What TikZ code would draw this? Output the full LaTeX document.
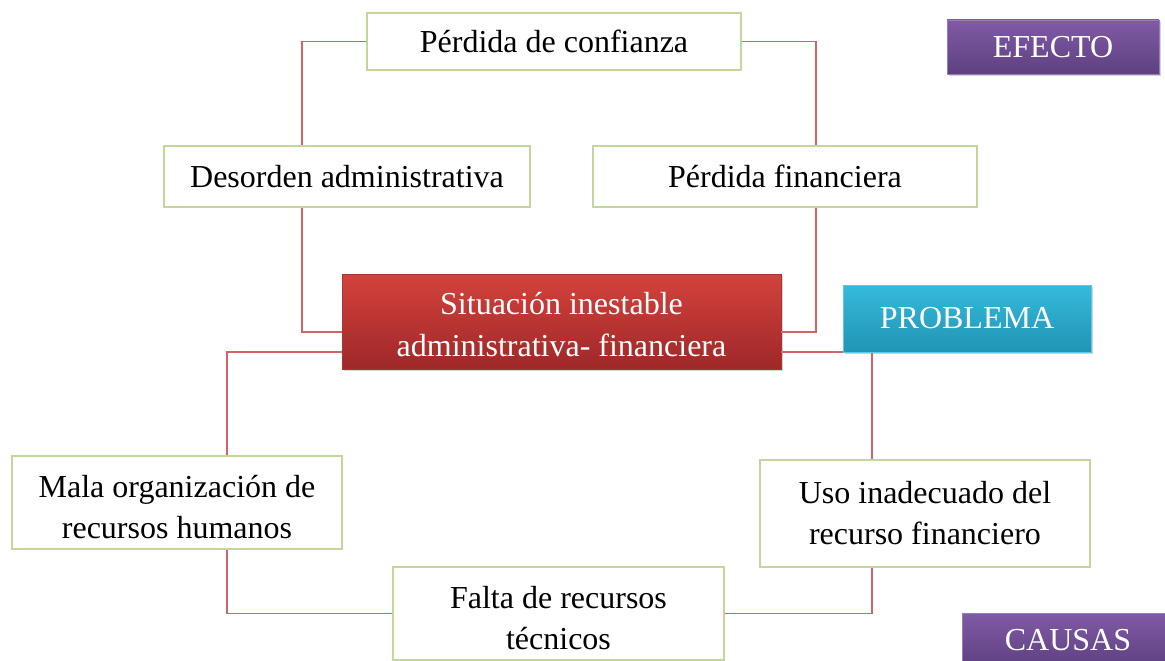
\documentclass[tikz,border=0pt]{standalone}
\usepackage{fontspec}
\setmainfont{Liberation Serif}
\usetikzlibrary{shadows}

\definecolor{boxgreen}{RGB}{195,214,155}
\definecolor{linkred}{RGB}{212,100,100}
\definecolor{probtop}{RGB}{212,66,60}
\definecolor{probbot}{RGB}{158,40,40}
\definecolor{tealtop}{RGB}{52,186,220}
\definecolor{tealbot}{RGB}{34,148,180}
\definecolor{violtop}{RGB}{128,90,166}
\definecolor{violbot}{RGB}{94,64,128}

\begin{document}
\begin{tikzpicture}[x=1pt, y=-1pt,
	every node/.style={font=\fontsize{32}{41}\selectfont, align=center, inner sep=0pt},
	cbox/.style={draw=boxgreen, line width=1.2pt, fill=white},
	lowtext/.style={text height=#1, text depth=5pt},
	pbox/.style={top color=probtop, bottom color=probbot, draw=probtop!80!black,
		text=white, font=\fontsize{32}{42}\selectfont, drop shadow={opacity=0.35}},
	tagbox/.style={text=white, drop shadow={opacity=0.35}},
	link/.style={draw=linkred, line width=1.5pt}]

% Frame
\useasboundingbox (0,0) rectangle (1165,661);
\clip (0,0) rectangle (1165,661);

% Columns of the connectors
\coordinate (colA) at (302,0);
\coordinate (colB) at (816,0);
\coordinate (colC) at (227,0);
\coordinate (colD) at (872,0);

% Effects
\node[cbox, minimum width=374pt, minimum height=57pt]
	(confianza) at (554,41.5) {Pérdida de confianza};
\node[cbox, minimum width=366pt, minimum height=61pt]
	(desorden) at (347,176.5) {Desorden administrativa};
\node[cbox, minimum width=384pt, minimum height=61pt]
	(financiera) at (785,176.5) {Pérdida financiera};

% Problem
\node[pbox, lowtext=74pt, minimum width=439pt, minimum height=95pt]
	(situacion) at (561.5,321.5) {Situación inestable\\administrativa- financiera};

% Causes
\node[cbox, lowtext=76pt, minimum width=330pt, minimum height=93pt]
	(mala) at (177,502.5) {Mala organización de\\recursos humanos};
\node[cbox, minimum width=330pt, minimum height=107pt]
	(uso) at (925,513.5) {Uso inadecuado del\\recurso financiero};
\node[cbox, lowtext=76pt, minimum width=331pt, minimum height=93pt]
	(falta) at (558.5,613.5) {Falta de recursos\\técnicos};

% Connect effects
\draw[link] (confianza.west) -| (colA |- desorden.north);
\draw[link] (confianza.east) -| (colB |- financiera.north);
\draw[link] (colA |- desorden.south) |- ([yshift=-10.5pt]situacion.west);
\draw[link] (colB |- financiera.south) |- ([yshift=-10.5pt]situacion.east);

% Connect causes
\draw[link] ([yshift=-30.5pt]situacion.west) -| (colC |- mala.north);
\draw[link] ([yshift=-30.5pt]situacion.east) -| (colD |- uso.north);
\draw[link] (colC |- mala.south) |- (falta.west);
\draw[link] (colD |- uso.south) |- (falta.east);

% Tags
\node[tagbox, top color=violtop, bottom color=violbot, draw=violtop!80!white,
	minimum width=212pt, minimum height=54pt]
	(efecto) at (1053,47) {EFECTO};
\node[tagbox, top color=tealtop, bottom color=tealbot, draw=tealtop!80!white,
	minimum width=248pt, minimum height=67pt]
	(problema) at (967,318.5) {PROBLEMA};
\node[tagbox, top color=violtop, bottom color=violbot, draw=violtop!80!white,
	minimum width=212pt, minimum height=54pt]
	(causas) at (1068,640) {CAUSAS};
\end{tikzpicture}
\end{document}
